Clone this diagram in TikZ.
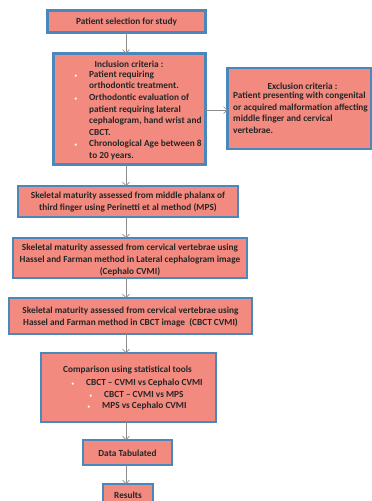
\documentclass[tikz,border=0pt]{standalone}
\usepackage{fontspec}
\setmainfont{Carlito}
\usetikzlibrary{arrows.meta}
\definecolor{boxfill}{HTML}{F28A80}
\definecolor{boxline}{HTML}{4A88BC}
\definecolor{txt}{HTML}{262626}
\definecolor{arrline}{HTML}{8C8C8C}
\newcommand{\wbul}{\llap{\textcolor{white}{\tiny\textbullet}\hspace{12pt}}}
\tikzset{
  flowbox/.style={draw=boxline, line width=2.4pt, fill=boxfill, inner sep=0pt, outer sep=0pt},
  flowtext/.style={text=txt, font=\bfseries\fontsize{9.3}{11.6}\selectfont, inner sep=0pt, align=center},
  lefttext/.style={flowtext, align=left},
  arr/.style={draw=arrline, line width=0.6pt, -{Straight Barb[length=3.5pt,width=7pt]}}
}
\begin{document}
\begin{tikzpicture}[x=1pt,y=-1pt]
\useasboundingbox (0,0) rectangle (372,501);
% boxes
\node[flowbox, minimum width=158pt, minimum height=22pt] (b1) at (126.5,21.5) {};
\node[flowbox, minimum width=152pt, minimum height=111pt] (b2) at (129.5,109) {};
\node[flowbox, minimum width=144pt, minimum height=81pt] (ex) at (299.5,108.5) {};
\node[flowbox, minimum width=220pt, minimum height=31pt] (b3) at (128,201.5) {};
\node[flowbox, minimum width=234pt, minimum height=40pt] (b4) at (130,258) {};
\node[flowbox, minimum width=243pt, minimum height=36pt] (b5) at (130.5,316) {};
\node[flowbox, minimum width=175pt, minimum height=69pt] (b6) at (128.5,387.5) {};
\node[flowbox, minimum width=89pt, minimum height=25pt] (b7) at (127.5,452.5) {};
\node[flowbox, minimum width=50pt, minimum height=26pt] (b8) at (128,497) {};
% texts
\node[flowtext] (t1) at (126.5,22) {Patient selection for study};
\node[flowtext] (t2a) at (129,64) {Inclusion criteria :};
\node[lefttext, anchor=north west] (t2b) at (89,70.5) {\wbul Patient requiring\\orthodontic treatment.\\\wbul Orthodontic evaluation of\\patient requiring lateral\\cephalogram, hand wrist and\\CBCT.\\\wbul Chronological Age between 8\\to 20 years.};
\node[flowtext] (exa) at (302.5,86) {Exclusion criteria :};
\node[lefttext, anchor=north west] (exb) at (233,92) {Patient presenting with congenital\\or acquired malformation affecting\\middle finger and cervical\\vertebrae.};
\node[flowtext] (t3) at (128,202) {Skeletal maturity assessed from middle phalanx of\\third finger using Perinetti et al method (MPS)};
\node[flowtext] (t4) at (130,260) {Skeletal maturity assessed from cervical vertebrae using\\Hassel and Farman method in Lateral cephalogram image\\(Cephalo CVMI)};
\node[flowtext] (t5) at (130.5,317) {Skeletal maturity assessed from cervical vertebrae using\\Hassel and Farman method in CBCT image\ \ (CBCT CVMI)};
\node[flowtext] (t6a) at (127.5,370) {Comparison using statistical tools};
\node[lefttext, anchor=west] (t6b) at (86,382.5) {\wbul CBCT – CVMI vs Cephalo CVMI};
\node[lefttext, anchor=west] (t6c) at (104,394) {\wbul CBCT – CVMI vs MPS};
\node[lefttext, anchor=west] (t6d) at (102,405.5) {\wbul MPS vs Cephalo CVMI};
\node[flowtext] (t7) at (127.5,453) {Data Tabulated};
\node[flowtext] (t8) at (128,495.5) {Results};
% connectors
\coordinate (ax) at (126,0);
\draw[arr] (ax |- b1.south) -- (ax |- b2.north);
\draw[arr] (ax |- b2.south) -- (ax |- b3.north);
\draw[arr] (ax |- b3.south) -- (ax |- b4.north);
\draw[arr] (ax |- b4.south) -- (ax |- b5.north);
\draw[arr] (ax |- b5.south) -- (ax |- b6.north);
\draw[arr] (ax |- b6.south) -- (ax |- b7.north);
\draw[arr] (ax |- b7.south) -- (ax |- b8.north);
\draw[arr] (b2.east |- 0,110) -- (ex.west |- 0,110);
\end{tikzpicture}
\end{document}
